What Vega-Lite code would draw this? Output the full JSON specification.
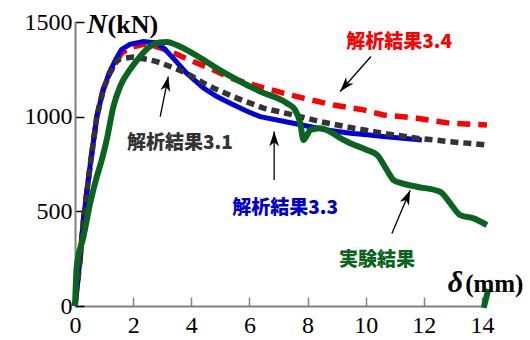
{
  "$schema": "https://vega.github.io/schema/vega-lite/v6.json",
  "width": 407,
  "height": 284,
  "autosize": {"type": "none"},
  "padding": {"left": 75, "top": 22, "right": 48, "bottom": 34},
  "background": "white",
  "config": {
    "view": {"stroke": null},
    "style": {"guide-label": {"font": "Liberation Serif", "fontSize": 24, "fill": "black"}},
    "axis": {"labelFont": "Liberation Serif", "labelFontSize": 24, "labelColor": "black", "grid": false, "title": null, "labelFlush": false, "format": "d"},
    "axisX": {"labelFont": "Liberation Serif", "labelFontSize": 24},
    "axisY": {"labelFont": "Liberation Serif", "labelFontSize": 24}
  },
  "datasets": {
    "curves": [
      {"s":"red","g":1,"x":0,"y":0},{"s":"red","g":1,"x":0.17,"y":242},{"s":"red","g":1,"x":0.29,"y":454},{"s":"red","g":1,"x":0.4,"y":595},{"s":"red","g":1,"x":0.52,"y":740},{"s":"red","g":1,"x":0.75,"y":1000},{"s":"red","g":1,"x":0.97,"y":1142},{"s":"red","g":1,"x":1.2,"y":1235},{"s":"red","g":1,"x":1.43,"y":1295},{"s":"red","g":1,"x":1.6,"y":1335},{"s":"red","g":1,"x":1.89,"y":1365},{"s":"red","g":1,"x":2.35,"y":1382},{"s":"red","g":1,"x":2.7,"y":1375},{"s":"red","g":1,"x":3.04,"y":1358},{"s":"red","g":1,"x":3.5,"y":1330},{"s":"red","g":1,"x":4.07,"y":1291},{"s":"red","g":1,"x":4.88,"y":1239},{"s":"red","g":1,"x":5.34,"y":1204},{"s":"red","g":1,"x":6.14,"y":1168},{"s":"red","g":1,"x":7.17,"y":1124},{"s":"red","g":1,"x":8.09,"y":1089},{"s":"red","g":1,"x":8.89,"y":1062},{"s":"red","g":1,"x":9.92,"y":1036},{"s":"red","g":1,"x":10.61,"y":1009},{"s":"red","g":1,"x":11.76,"y":992},{"s":"red","g":1,"x":12.91,"y":965},{"s":"red","g":1,"x":14.17,"y":956},
      {"s":"blue","g":1,"x":0,"y":0},{"s":"blue","g":1,"x":0.17,"y":242},{"s":"blue","g":1,"x":0.29,"y":454},{"s":"blue","g":1,"x":0.4,"y":595},{"s":"blue","g":1,"x":0.52,"y":740},{"s":"blue","g":1,"x":0.75,"y":1000},{"s":"blue","g":1,"x":0.97,"y":1142},{"s":"blue","g":1,"x":1.2,"y":1240},{"s":"blue","g":1,"x":1.43,"y":1310},{"s":"blue","g":1,"x":1.6,"y":1355},{"s":"blue","g":1,"x":1.89,"y":1382},{"s":"blue","g":1,"x":2.35,"y":1397},{"s":"blue","g":1,"x":2.81,"y":1389},{"s":"blue","g":1,"x":3.1,"y":1355},{"s":"blue","g":1,"x":3.4,"y":1305},{"s":"blue","g":1,"x":3.84,"y":1230},{"s":"blue","g":1,"x":4.42,"y":1151},{"s":"blue","g":1,"x":4.88,"y":1106},{"s":"blue","g":1,"x":5.34,"y":1071},{"s":"blue","g":1,"x":5.9,"y":1030},{"s":"blue","g":1,"x":6.37,"y":1000},{"s":"blue","g":1,"x":7.51,"y":965},{"s":"blue","g":1,"x":8.66,"y":930},{"s":"blue","g":1,"x":9.47,"y":912},{"s":"blue","g":1,"x":10.04,"y":905},{"s":"blue","g":1,"x":10.61,"y":895},{"s":"blue","g":1,"x":11.93,"y":877},
      {"s":"black","g":1,"x":0,"y":0},{"s":"black","g":1,"x":0.17,"y":242},{"s":"black","g":1,"x":0.29,"y":454},{"s":"black","g":1,"x":0.4,"y":595},{"s":"black","g":1,"x":0.52,"y":740},{"s":"black","g":1,"x":0.75,"y":1000},{"s":"black","g":1,"x":0.97,"y":1142},{"s":"black","g":1,"x":1.2,"y":1230},{"s":"black","g":1,"x":1.43,"y":1291},{"s":"black","g":1,"x":1.55,"y":1305},{"s":"black","g":1,"x":2.0,"y":1315},{"s":"black","g":1,"x":2.48,"y":1303},{"s":"black","g":1,"x":2.81,"y":1291},{"s":"black","g":1,"x":3.27,"y":1265},{"s":"black","g":1,"x":3.84,"y":1230},{"s":"black","g":1,"x":4.42,"y":1177},{"s":"black","g":1,"x":4.76,"y":1151},{"s":"black","g":1,"x":5.57,"y":1098},{"s":"black","g":1,"x":6.48,"y":1045},{"s":"black","g":1,"x":7.51,"y":1009},{"s":"black","g":1,"x":8.43,"y":974},{"s":"black","g":1,"x":9.6,"y":939},{"s":"black","g":1,"x":10.61,"y":912},{"s":"black","g":1,"x":11.76,"y":886},{"s":"black","g":1,"x":12.91,"y":868},{"s":"black","g":1,"x":14.17,"y":850},
      {"s":"green","g":1,"x":0,"y":0},{"s":"green","g":1,"x":0.03,"y":120},{"s":"green","g":1,"x":0.06,"y":206},{"s":"green","g":1,"x":0.29,"y":365},{"s":"green","g":1,"x":0.52,"y":542},{"s":"green","g":1,"x":0.75,"y":683},{"s":"green","g":1,"x":0.92,"y":771},{"s":"green","g":1,"x":1.09,"y":877},{"s":"green","g":1,"x":1.32,"y":1053},{"s":"green","g":1,"x":1.55,"y":1159},{"s":"green","g":1,"x":1.89,"y":1248},{"s":"green","g":1,"x":2.24,"y":1318},{"s":"green","g":1,"x":2.58,"y":1371},{"s":"green","g":1,"x":2.9,"y":1392},{"s":"green","g":1,"x":3.16,"y":1395},{"s":"green","g":1,"x":3.5,"y":1378},{"s":"green","g":1,"x":3.84,"y":1353},{"s":"green","g":1,"x":4.42,"y":1300},{"s":"green","g":1,"x":4.88,"y":1255},{"s":"green","g":1,"x":5.57,"y":1195},{"s":"green","g":1,"x":6.37,"y":1133},{"s":"green","g":1,"x":7.29,"y":1071},{"s":"green","g":1,"x":7.57,"y":1036},{"s":"green","g":1,"x":7.75,"y":965},{"s":"green","g":1,"x":7.86,"y":877},{"s":"green","g":1,"x":7.97,"y":900},{"s":"green","g":1,"x":8.09,"y":930},{"s":"green","g":1,"x":8.43,"y":939},{"s":"green","g":1,"x":9.24,"y":877},{"s":"green","g":1,"x":9.47,"y":860},{"s":"green","g":1,"x":10.04,"y":824},{"s":"green","g":1,"x":10.39,"y":798},{"s":"green","g":1,"x":10.73,"y":718},{"s":"green","g":1,"x":10.96,"y":665},{"s":"green","g":1,"x":11.2,"y":650},{"s":"green","g":1,"x":11.76,"y":630},{"s":"green","g":1,"x":12.56,"y":604},{"s":"green","g":1,"x":12.91,"y":542},{"s":"green","g":1,"x":13.25,"y":480},{"s":"green","g":1,"x":13.71,"y":463},{"s":"green","g":1,"x":14.17,"y":427},
      {"s":"green","g":2,"x":14.06,"y":-10},{"s":"green","g":2,"x":14.22,"y":90}
    ],
    "labels": [
      {"s":"black","t":"解析結果3.1","x":3.61,"y":860},
      {"s":"blue","t":"解析結果3.3","x":7.23,"y":517},
      {"s":"red","t":"解析結果3.4","x":11.15,"y":1397},
      {"s":"green","t":"実験結果","x":10.39,"y":242}
    ],
    "arrows": [
      {"a":"a31","x":3.21,"y":1212,"x2":2.93,"y2":1000},
      {"a":"a33","x":6.85,"y":921,"x2":6.85,"y2":665},
      {"a":"a34","x":9.12,"y":1133,"x2":10.18,"y2":1318},
      {"a":"aex","x":11.53,"y":612,"x2":10.9,"y2":383}
    ]
  },
  "encoding": {
    "x": {"field": "x", "type": "quantitative", "scale": {"domain": [0, 14], "nice": false, "zero": false},
      "axis": {"title": null, "values": [0,2,4,6,8,10,12,14], "format": "d", "grid": false, "domainColor": "#808080", "domainWidth": 2, "tickColor": "#808080", "tickWidth": 1.5, "tickSize": -9, "labelPadding": 16, "labelFont": "Liberation Serif", "labelFontSize": 24, "labelColor": "black", "labelFlush": false}},
    "y": {"field": "y", "type": "quantitative", "scale": {"domain": [0, 1500], "nice": false, "zero": false},
      "axis": {"title": null, "values": [0,500,1000,1500], "format": "d", "grid": false, "domainColor": "#808080", "domainWidth": 2, "tickColor": "black", "tickWidth": 1.5, "tickSize": -9, "labelPadding": 12, "labelFont": "Liberation Serif", "labelFontSize": 24, "labelColor": "black", "labelFlush": false}}
  },
  "layer": [
    {"data": {"name": "curves"}, "transform": [{"filter": "datum.s == 'red'"}],
     "mark": {"type": "line", "color": "#ff0000", "strokeWidth": 5.5, "strokeDash": [13, 8]},
     "encoding": {"detail": {"field": "g"}, "order": {"field": "x", "type": "quantitative"}}},
    {"data": {"name": "curves"}, "transform": [{"filter": "datum.s == 'blue'"}],
     "mark": {"type": "line", "color": "#0000dd", "strokeWidth": 5},
     "encoding": {"detail": {"field": "g"}, "order": {"field": "x", "type": "quantitative"}}},
    {"data": {"name": "curves"}, "transform": [{"filter": "datum.s == 'black'"}],
     "mark": {"type": "line", "color": "#333333", "strokeWidth": 5.5, "strokeDash": [8, 5]},
     "encoding": {"detail": {"field": "g"}, "order": {"field": "x", "type": "quantitative"}}},
    {"data": {"name": "curves"}, "transform": [{"filter": "datum.s == 'green'"}],
     "mark": {"type": "line", "color": "#0a6420", "strokeWidth": 6, "interpolate": "monotone"},
     "encoding": {"detail": {"field": "g"}, "order": {"field": "x", "type": "quantitative"}}},
    {"data": {"name": "arrows"},
     "mark": {"type": "rule", "color": "black", "strokeWidth": 1.3},
     "encoding": {"x2": {"field": "x2"}, "y2": {"field": "y2"}}},
    {"data": {"name": "arrows"}, "transform": [{"filter": "datum.a == 'a31'"}],
     "mark": {"type": "point", "shape": "M0,0 L-0.6,1.8 L0,1.3 L0.6,1.8 Z", "size": 270, "filled": true, "color": "black", "opacity": 1, "angle": 12},
     "encoding": {}},
    {"data": {"name": "arrows"}, "transform": [{"filter": "datum.a == 'a33'"}],
     "mark": {"type": "point", "shape": "M0,0 L-0.6,1.8 L0,1.3 L0.6,1.8 Z", "size": 270, "filled": true, "color": "black", "opacity": 1, "angle": 0},
     "encoding": {}},
    {"data": {"name": "arrows"}, "transform": [{"filter": "datum.a == 'a34'"}],
     "mark": {"type": "point", "shape": "M0,0 L-0.6,1.8 L0,1.3 L0.6,1.8 Z", "size": 270, "filled": true, "color": "black", "opacity": 1, "angle": 221},
     "encoding": {}},
    {"data": {"name": "arrows"}, "transform": [{"filter": "datum.a == 'aex'"}],
     "mark": {"type": "point", "shape": "M0,0 L-0.6,1.8 L0,1.3 L0.6,1.8 Z", "size": 270, "filled": true, "color": "black", "opacity": 1, "angle": 23},
     "encoding": {}},
    {"data": {"name": "labels"},
     "mark": {"type": "text", "font": "Noto Sans CJK JP", "fontWeight": 900, "fontSize": 19, "align": "center", "baseline": "middle"},
     "encoding": {"text": {"field": "t"},
       "color": {"field": "s", "type": "nominal", "legend": null,
         "scale": {"domain": ["black","blue","red","green"], "range": ["#333333","#0000cc","#ff0000","#0a6420"]}}}},
    {"data": {"values": [{"t": "N", "x": 0.41, "y": 1443}]},
     "mark": {"type": "text", "font": "Liberation Serif", "fontStyle": "italic", "fontWeight": "bold", "fontSize": 28, "align": "left", "baseline": "alphabetic", "color": "black"},
     "encoding": {"text": {"field": "t"}}},
    {"data": {"values": [{"t": "(kN)", "x": 1.12, "y": 1443}]},
     "mark": {"type": "text", "font": "Liberation Serif", "fontWeight": "bold", "fontSize": 26, "align": "left", "baseline": "alphabetic", "color": "black"},
     "encoding": {"text": {"field": "t"}}},
    {"data": {"values": [{"t": "δ", "x": 12.82, "y": 72}]},
     "mark": {"type": "text", "font": "Liberation Serif", "fontStyle": "italic", "fontWeight": "bold", "fontSize": 30, "align": "left", "baseline": "alphabetic", "color": "black"},
     "encoding": {"text": {"field": "t"}}},
    {"data": {"values": [{"t": "(mm)", "x": 13.42, "y": 72}]},
     "mark": {"type": "text", "font": "Liberation Serif", "fontWeight": "bold", "fontSize": 25, "align": "left", "baseline": "alphabetic", "color": "black"},
     "encoding": {"text": {"field": "t"}}}
  ]
}
